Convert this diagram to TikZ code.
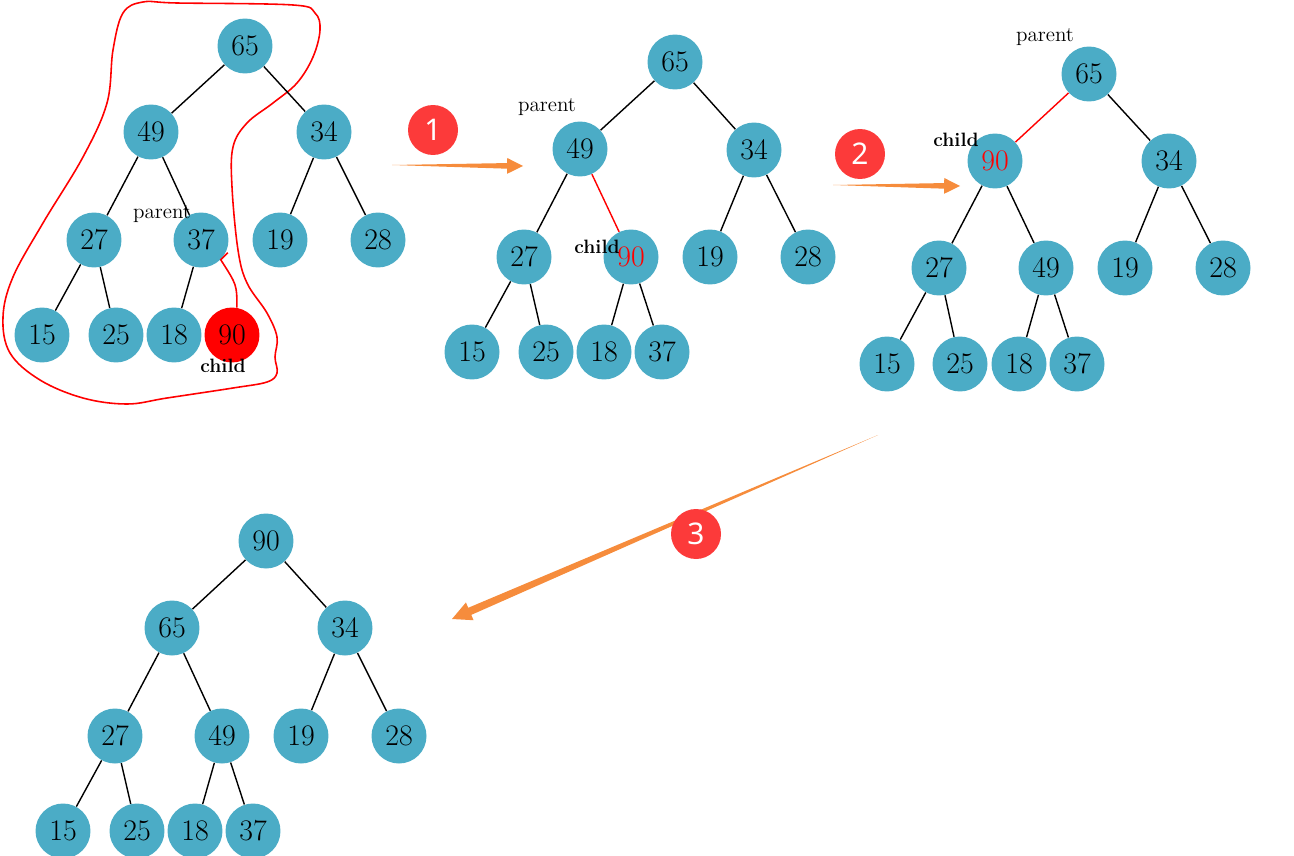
\documentclass[tikz,border=0pt]{standalone}
\usepackage{fontspec}
\newfontfamily\badgefont{Noto Sans}
\usetikzlibrary{calc}
\definecolor{nodeblue}{RGB}{75,172,198}
\definecolor{badgered}{RGB}{252,58,58}
\definecolor{arroworange}{RGB}{246,140,60}
\tikzset{v/.style={circle,fill=nodeblue,inner sep=0pt,minimum size=1.1cm,font=\fontsize{17}{17}\selectfont}}
\tikzset{hot/.style={v,text=red}}
\tikzset{tie/.style={-,line width=0.8pt}}
\tikzset{tag/.style={font=\fontsize{12}{12}\selectfont}}
\tikzset{btag/.style={font=\fontsize{11}{11}\selectfont\bfseries}}
\tikzset{badge/.style={circle,fill=badgered,text=white,inner sep=0pt,minimum size=1.0cm,font=\badgefont\fontsize{17}{17}\selectfont}}
\newcommand{\fatarrow}[5]{%
  \coordinate (#2h) at ($(#2)!#5!(#1)$);
  \fill[arroworange] (#1) -- ($(#2h)!#3!90:(#2)$) -- ($(#2h)!#4!90:(#2)$) -- (#2)
    -- ($(#2h)!#4!-90:(#2)$) -- ($(#2h)!#3!-90:(#2)$) -- cycle;}

\begin{document}
\begin{tikzpicture}[x=0.02cm,y=-0.02cm]
  \useasboundingbox (0,0) rectangle (1294,855);
  % first heap, 90 just added
  \draw[red,line width=0.9pt] plot[smooth cycle,tension=0.6] coordinates {
    (143,2) (177,3) (293,5) (315,13) (320,30) (313,57) (297,83) (273,103)
    (247,123) (233,147) (232,187) (238,250) (247,283) (267,313) (277,337)
    (275,357) (277,373) (267,382) (233,388) (167,398) (127,404) (83,398)
    (40,380) (10,353) (3,317) (13,277) (43,223) (83,157) (107,103) (113,50) (123,13)};
  \node [v] (a65) at (245,46) {65};
  \node [v] (a49) at (151,132) {49} edge [tie] (a65);
  \node [v] (a34) at (324,132) {34} edge [tie] (a65);
  \node [v] (a27) at (94,240) {27} edge [tie] (a49);
  \node [v] (a37) at (201,240) {37} edge [tie] (a49);
  \node [v] (a19) at (280,240) {19} edge [tie] (a34);
  \node [v] (a28) at (378,240) {28} edge [tie] (a34);
  \node [v] (a15) at (42,335) {15} edge [tie] (a27);
  \node [v] (a25) at (116,335) {25} edge [tie] (a27);
  \node [v] (a18) at (174,335) {18} edge [tie] (a37);
  \node [v,fill=red] (a90) at (232,335) {90};
  \draw[red,line width=0.9pt] (a90.80) .. controls (237,285) .. (a37.-45) -- ++(7,-7);
  \node [tag] at (162,214) {parent};
  \node [btag] at (223,366) {child};

  % second heap, 90 swapped with 37
  \node [v] (b65) at (675,62) {65};
  \node [v] (b49) at (580,149) {49} edge [tie] (b65);
  \node [v] (b34) at (754,150) {34} edge [tie] (b65);
  \node [v] (b27) at (524,257) {27} edge [tie] (b49);
  \node [hot] (b90) at (631,257) {90} edge [tie,red] (b49);
  \node [v] (b19) at (710,257) {19} edge [tie] (b34);
  \node [v] (b28) at (808,257) {28} edge [tie] (b34);
  \node [v] (b15) at (472,352) {15} edge [tie] (b27);
  \node [v] (b25) at (546,352) {25} edge [tie] (b27);
  \node [v] (b18) at (604,352) {18} edge [tie] (b90);
  \node [v] (b37) at (662,352) {37} edge [tie] (b90);
  \node [tag] at (547,107) {parent};
  \node [btag] at (597,247) {child};

  % third heap, 90 swapped with 49
  \node [v] (c65) at (1089,74) {65};
  \node [hot] (c90) at (995,161) {90} edge [tie,red] (c65);
  \node [v] (c34) at (1169,161) {34} edge [tie] (c65);
  \node [v] (c27) at (939,268) {27} edge [tie] (c90);
  \node [v] (c49) at (1046,268) {49} edge [tie] (c90);
  \node [v] (c19) at (1125,268) {19} edge [tie] (c34);
  \node [v] (c28) at (1223,268) {28} edge [tie] (c34);
  \node [v] (c15) at (887,364) {15} edge [tie] (c27);
  \node [v] (c25) at (960,364) {25} edge [tie] (c27);
  \node [v] (c18) at (1019,364) {18} edge [tie] (c49);
  \node [v] (c37) at (1077,364) {37} edge [tie] (c49);
  \node [tag] at (1045,37) {parent};
  \node [btag] at (956,140) {child};

  % last heap, 90 at the root
  \node [v] (d90) at (266,541) {90};
  \node [v] (d65) at (172,628) {65} edge [tie] (d90);
  \node [v] (d34) at (345,628) {34} edge [tie] (d90);
  \node [v] (d27) at (115,736) {27} edge [tie] (d65);
  \node [v] (d49) at (222,736) {49} edge [tie] (d65);
  \node [v] (d19) at (301,736) {19} edge [tie] (d34);
  \node [v] (d28) at (399,736) {28} edge [tie] (d34);
  \node [v] (d15) at (63,831) {15} edge [tie] (d27);
  \node [v] (d25) at (137,831) {25} edge [tie] (d27);
  \node [v] (d18) at (195,831) {18} edge [tie] (d49);
  \node [v] (d37) at (253,831) {37} edge [tie] (d49);

  % step arrows
  \coordinate (s1) at (392,165); \coordinate (t1) at (523,166);
  \coordinate (s2) at (833,185); \coordinate (t2) at (960,186);
  \coordinate (s3) at (878,435); \coordinate (t3) at (452,619);
  \fatarrow{s1}{t1}{1.6pt}{4.5pt}{9pt}
  \fatarrow{s2}{t2}{1.6pt}{4.5pt}{9pt}
  \fatarrow{s3}{t3}{2.2pt}{5.5pt}{11pt}
  \node [badge] (n1) at (433,130) {1};
  \node [badge] (n2) at (860,154) {2};
  \node [badge] (n3) at (696,534) {3};
\end{tikzpicture}
\end{document}
